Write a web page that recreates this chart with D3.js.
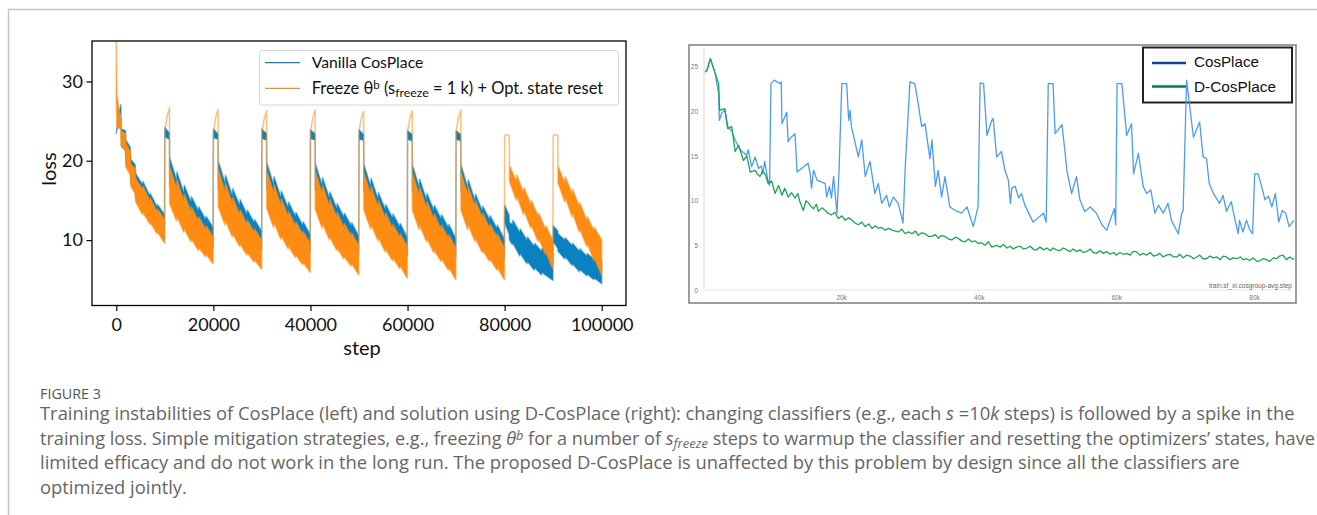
<!DOCTYPE html>
<html>
<head>
<meta charset="utf-8">
<script src="https://cdn.jsdelivr.net/npm/d3@7"></script>
<style>
  body { margin: 0; background: #fff; }
</style>
</head>
<body>
<script>
// ---- left panel: training loss, [step in k, low, high] of the noisy band ----
var vanilla = [
  [0.0, 23.4, 23.4], [0.3, 24.3, 25.3], [0.95, 26.2, 27.1], [1.05, 21.8, 24.0], [1.9, 21.3, 23.8],
  [2.0, 19.4, 22.6], [2.9, 18.5, 21.7], [3.0, 17.2, 20.2], [3.9, 16.3, 19.5], [4.0, 15.3, 18.4],
  [5.4, 13.7, 17.0], [5.5, 14.0, 17.4], [6.9, 12.5, 15.6], [7.0, 12.7, 15.9], [8.4, 11.3, 14.2],
  [8.5, 11.5, 14.5], [9.95, 10.0, 13.2],
  [10.0, 23.0, 24.2], [10.95, 22.7, 23.5], [11.0, 16.8, 20.4], [12.4, 14.6, 17.6], [12.5, 15.3, 18.6],
  [13.9, 13.2, 16.0], [14.0, 13.7, 16.9], [15.4, 12.0, 14.8], [15.5, 12.4, 15.5], [16.9, 11.0, 13.7],
  [17.0, 11.3, 14.2], [18.4, 10.0, 12.6], [18.5, 10.3, 13.0], [19.95, 9.0, 11.6],
  [20.0, 22.9, 24.0], [20.95, 22.7, 23.4], [21.0, 16.6, 20.0], [22.4, 14.3, 17.2], [22.5, 15.0, 18.2],
  [23.9, 12.9, 15.6], [24.0, 13.4, 16.5], [25.4, 11.7, 14.4], [25.5, 12.1, 15.1], [26.9, 10.7, 13.3],
  [27.0, 11.0, 13.8], [28.4, 9.7, 12.2], [28.5, 10.0, 12.6], [29.95, 8.7, 11.1],
  [30.0, 22.8, 24.0], [30.95, 22.6, 23.4], [31.0, 16.4, 19.8], [32.4, 14.1, 17.0], [32.5, 14.8, 18.0],
  [33.9, 12.7, 15.4], [34.0, 13.2, 16.2], [35.4, 11.5, 14.1], [35.5, 11.9, 14.8], [36.9, 10.5, 13.0],
  [37.0, 10.8, 13.5], [38.4, 9.5, 11.9], [38.5, 9.8, 12.3], [39.95, 8.4, 10.7],
  [40.0, 22.8, 23.9], [40.95, 22.6, 23.4], [41.0, 16.3, 19.7], [42.4, 14.0, 16.9], [42.5, 14.7, 17.9],
  [43.9, 12.6, 15.3], [44.0, 13.1, 16.1], [45.4, 11.4, 14.0], [45.5, 11.8, 14.6], [46.9, 10.4, 12.9],
  [47.0, 10.7, 13.4], [48.4, 9.4, 11.8], [48.5, 9.7, 12.2], [49.95, 8.2, 10.5],
  [50.0, 22.7, 23.9], [50.95, 22.6, 23.3], [51.0, 16.2, 19.6], [52.4, 13.9, 16.8], [52.5, 14.6, 17.8],
  [53.9, 12.5, 15.2], [54.0, 13.0, 16.0], [55.4, 11.3, 13.9], [55.5, 11.7, 14.5], [56.9, 10.3, 12.8],
  [57.0, 10.6, 13.3], [58.4, 9.3, 11.7], [58.5, 9.6, 12.1], [59.95, 8.0, 10.3],
  [60.0, 22.7, 23.8], [60.95, 22.5, 23.3], [61.0, 16.2, 19.5], [62.4, 13.8, 16.7], [62.5, 14.5, 17.7],
  [63.9, 12.4, 15.1], [64.0, 12.9, 15.9], [65.4, 11.2, 13.8], [65.5, 11.6, 14.4], [66.9, 10.2, 12.7],
  [67.0, 10.5, 13.2], [68.4, 9.2, 11.6], [68.5, 9.5, 12.0], [69.95, 7.8, 10.2],
  [70.0, 22.7, 23.8], [70.95, 22.5, 23.3], [71.0, 16.1, 19.5], [72.4, 13.8, 16.6], [72.5, 14.4, 17.6],
  [73.9, 12.3, 15.0], [74.0, 12.8, 15.8], [75.4, 11.1, 13.7], [75.5, 11.5, 14.3], [76.9, 10.1, 12.6],
  [77.0, 10.4, 13.1], [78.4, 9.1, 11.5], [78.5, 9.4, 11.9], [79.95, 7.8, 10.1],
  [80.0, 12.2, 14.4], [80.9, 10.8, 13.2], [81.0, 10.0, 12.2], [81.6, 9.4, 12.0], [81.7, 9.6, 12.5],
  [83.1, 8.0, 11.0], [83.2, 8.3, 11.4], [84.6, 7.0, 10.0], [84.7, 7.3, 10.4], [86.1, 6.2, 9.2],
  [86.2, 6.5, 9.6], [87.6, 5.6, 8.6], [87.7, 5.9, 9.0], [89.95, 4.9, 8.3],
  [90.0, 9.8, 11.8], [90.9, 9.0, 11.2], [91.0, 8.6, 10.8], [92.4, 7.6, 10.0], [92.5, 7.9, 10.3],
  [93.9, 6.8, 9.3], [94.0, 7.0, 9.6], [95.4, 6.0, 8.6], [95.5, 6.3, 8.9], [96.9, 5.5, 8.0],
  [97.0, 5.7, 8.3], [98.4, 5.0, 7.6], [98.5, 5.2, 7.8], [100.0, 4.5, 7.2]
];

var freeze = [
  [0.0, 27.5, 35.6], [0.15, 24.2, 28.2], [0.9, 24.0, 25.2], [1.0, 22.0, 23.8], [1.9, 21.2, 23.4],
  [2.0, 19.2, 22.2], [2.9, 18.2, 21.2], [3.0, 16.8, 19.6], [3.9, 15.8, 19.0], [4.0, 14.8, 17.8],
  [5.4, 13.2, 16.4], [5.5, 13.5, 16.8], [6.9, 12.0, 15.0], [7.0, 12.2, 15.3], [8.4, 10.8, 13.6],
  [8.5, 11.0, 13.9], [9.95, 9.6, 12.6],
  [10.0, 23.5, 23.5], [10.25, 24.7, 24.7], [10.5, 25.6, 25.6], [10.75, 26.2, 26.2], [10.97, 26.7, 26.7],
  [11.0, 14.6, 19.3], [12.4, 12.4, 16.6], [12.5, 13.0, 17.6], [13.9, 11.0, 15.0], [14.0, 11.4, 15.8],
  [15.4, 9.8, 13.6], [15.5, 10.1, 14.2], [16.9, 8.7, 12.4], [17.0, 9.0, 12.9], [18.4, 7.9, 11.4],
  [18.5, 8.2, 11.8], [19.95, 7.0, 10.4],
  [20.0, 23.4, 23.4], [20.25, 24.6, 24.6], [20.5, 25.5, 25.5], [20.75, 26.1, 26.1], [20.97, 26.5, 26.5],
  [21.0, 14.2, 19.0], [22.4, 11.9, 16.2], [22.5, 12.5, 17.2], [23.9, 10.4, 14.6], [24.0, 10.8, 15.4],
  [25.4, 9.2, 13.2], [25.5, 9.5, 13.8], [26.9, 8.1, 12.0], [27.0, 8.4, 12.5], [28.4, 7.2, 11.0],
  [28.5, 7.5, 11.4], [29.95, 6.3, 10.0],
  [30.0, 23.4, 23.4], [30.25, 24.5, 24.5], [30.5, 25.3, 25.3], [30.75, 25.9, 25.9], [30.97, 26.3, 26.3],
  [31.0, 14.0, 18.8], [32.4, 11.6, 16.0], [32.5, 12.2, 17.0], [33.9, 10.1, 14.4], [34.0, 10.5, 15.2],
  [35.4, 8.9, 13.0], [35.5, 9.2, 13.6], [36.9, 7.8, 11.8], [37.0, 8.1, 12.3], [38.4, 6.9, 10.7],
  [38.5, 7.2, 11.1], [39.95, 5.9, 9.6],
  [40.0, 23.5, 23.5], [40.25, 24.6, 24.6], [40.5, 25.4, 25.4], [40.75, 26.0, 26.0], [40.97, 26.4, 26.4],
  [41.0, 13.9, 18.7], [42.4, 11.5, 15.9], [42.5, 12.1, 16.9], [43.9, 10.0, 14.3], [44.0, 10.4, 15.1],
  [45.4, 8.7, 12.9], [45.5, 9.0, 13.5], [46.9, 7.6, 11.6], [47.0, 7.9, 12.1], [48.4, 6.7, 10.5],
  [48.5, 7.0, 10.9], [49.95, 5.6, 9.3],
  [50.0, 23.6, 23.6], [50.25, 24.6, 24.6], [50.5, 25.4, 25.4], [50.75, 25.9, 25.9], [50.97, 26.2, 26.2],
  [51.0, 13.8, 18.5], [52.4, 11.4, 15.8], [52.5, 12.0, 16.8], [53.9, 9.9, 14.2], [54.0, 10.3, 15.0],
  [55.4, 8.5, 12.8], [55.5, 8.8, 13.4], [56.9, 7.4, 11.5], [57.0, 7.7, 12.0], [58.4, 6.4, 10.4],
  [58.5, 6.7, 10.8], [59.95, 5.2, 9.2],
  [60.0, 23.6, 23.6], [60.25, 24.6, 24.6], [60.5, 25.4, 25.4], [60.75, 25.9, 25.9], [60.97, 26.3, 26.3],
  [61.0, 13.8, 18.5], [62.4, 11.3, 15.7], [62.5, 11.9, 16.7], [63.9, 9.8, 14.1], [64.0, 10.2, 14.9],
  [65.4, 8.4, 12.7], [65.5, 8.7, 13.3], [66.9, 7.3, 11.4], [67.0, 7.6, 11.9], [68.4, 6.2, 10.3],
  [68.5, 6.5, 10.7], [69.95, 5.0, 9.0],
  [70.0, 23.6, 23.6], [70.25, 24.7, 24.7], [70.5, 25.5, 25.5], [70.75, 26.0, 26.0], [70.97, 26.4, 26.4],
  [71.0, 13.8, 18.6], [72.4, 11.3, 15.8], [72.5, 11.9, 16.8], [73.9, 9.8, 14.2], [74.0, 10.2, 15.0],
  [75.4, 8.4, 12.8], [75.5, 8.7, 13.4], [76.9, 7.3, 11.5], [77.0, 7.6, 12.0], [78.4, 6.2, 10.4],
  [78.5, 6.5, 10.8], [79.95, 5.0, 9.0],
  [80.0, 23.0, 23.0], [80.15, 23.3, 23.3], [80.95, 23.2, 23.2], [81.0, 17.4, 19.4], [82.4, 15.0, 17.4],
  [82.5, 15.6, 18.2], [83.9, 13.2, 16.0], [84.0, 13.7, 16.6], [85.4, 11.5, 14.5], [85.5, 11.9, 15.0],
  [86.9, 9.8, 13.0], [87.0, 10.2, 13.4], [88.4, 8.2, 11.4], [88.5, 8.5, 11.8], [89.95, 6.3, 9.9],
  [90.0, 23.0, 23.0], [90.15, 23.3, 23.3], [90.95, 23.2, 23.2], [91.0, 17.2, 19.3], [92.4, 14.8, 17.2],
  [92.5, 15.4, 18.0], [93.9, 12.9, 15.8], [94.0, 13.4, 16.4], [95.4, 11.0, 14.2], [95.5, 11.4, 14.7],
  [96.9, 9.2, 12.5], [97.0, 9.6, 13.0], [98.4, 7.4, 11.2], [98.5, 7.7, 11.6], [100.0, 5.5, 10.0]
];

var leftXTicks = [0, 20000, 40000, 60000, 80000, 100000];
var leftYTicks = [10, 20, 30];

// ---- right panel: [step in k, loss] ----
var cosPlace = [
  [0.25, 24.4], [0.5, 24.6], [1.0, 25.9], [1.7, 24.2], [2.2, 22.0], [2.3, 19.0], [2.7, 19.9], [3.1, 20.1],
  [3.6, 18.1], [4.1, 17.9], [4.3, 17.4], [4.6, 16.8], [5.1, 16.0], [5.6, 15.5], [6.3, 15.1], [6.5, 15.7],
  [7.0, 13.8], [7.5, 14.9], [8.0, 13.6], [8.4, 13.9], [8.6, 13.0], [8.9, 14.4], [9.3, 12.5], [9.6, 11.7],
  [9.8, 23.1], [10.3, 23.5], [11.1, 23.1], [11.3, 23.3], [11.4, 18.6], [12.1, 19.9], [12.3, 16.6],
  [12.6, 17.0], [13.3, 17.5], [13.6, 13.2], [15.2, 14.2], [15.5, 13.0], [15.7, 11.4], [16.0, 13.4],
  [16.5, 12.3], [17.7, 11.9], [17.9, 10.4], [18.3, 11.6], [18.6, 10.3], [18.9, 12.7], [19.4, 8.6],
  [19.7, 13.4], [20.1, 23.1], [20.8, 23.1], [21.1, 19.0], [21.3, 20.1], [21.5, 18.3], [22.5, 14.9],
  [23.0, 16.8], [23.5, 12.7], [24.2, 14.4], [24.9, 10.8], [25.4, 11.9], [25.9, 9.7], [26.6, 10.6],
  [27.0, 9.3], [27.6, 10.4], [28.3, 9.7], [29.0, 7.5], [29.3, 13.4], [30.0, 23.3], [30.7, 23.1],
  [31.2, 20.9], [31.7, 18.3], [32.2, 18.6], [32.9, 14.7], [33.2, 16.8], [33.7, 11.6], [34.1, 13.4],
  [34.6, 10.4], [35.1, 12.7], [35.8, 9.3], [36.6, 8.9], [37.5, 8.6], [38.3, 9.3], [39.2, 7.1],
  [39.9, 9.3], [40.2, 23.2], [40.7, 23.1], [41.2, 17.3], [41.9, 19.0], [42.1, 19.2], [42.6, 14.9],
  [43.3, 15.5], [43.8, 13.4], [44.3, 12.3], [44.6, 9.7], [44.8, 11.4], [45.3, 11.6], [45.8, 10.3],
  [46.2, 10.8], [46.7, 9.5], [47.9, 7.6], [49.4, 8.6], [49.8, 7.6], [50.1, 23.1], [50.8, 23.1],
  [51.1, 17.5], [52.1, 18.5], [52.5, 15.7], [52.8, 13.4], [53.5, 10.8], [54.2, 12.7], [54.7, 10.1],
  [55.4, 8.8], [56.2, 9.3], [57.1, 8.6], [57.9, 7.3], [58.6, 6.7], [59.1, 7.8], [59.7, 9.1], [59.9, 7.3],
  [60.1, 23.1], [60.8, 23.1], [61.5, 17.3], [62.2, 18.6], [62.5, 13.0], [63.2, 15.3], [63.9, 11.6],
  [64.4, 10.8], [65.0, 11.2], [65.6, 8.6], [66.1, 9.5], [66.8, 8.6], [67.5, 9.7], [68.0, 7.8],
  [69.0, 6.3], [69.5, 8.6], [69.7, 8.8], [70.2, 23.5], [71.2, 17.1], [72.1, 18.8], [72.6, 14.9],
  [73.1, 14.7], [73.5, 11.9], [74.1, 10.8], [75.0, 9.7], [75.5, 10.6], [76.0, 8.8], [76.7, 9.9],
  [77.2, 8.0], [77.7, 6.3], [77.9, 7.8], [78.4, 6.5], [78.9, 7.8], [79.4, 6.7], [79.8, 6.3],
  [80.1, 13.0], [80.6, 13.0], [81.1, 11.6], [81.6, 10.1], [82.1, 10.5], [82.6, 9.3], [83.1, 10.8],
  [83.6, 7.6], [84.1, 8.9], [84.6, 8.6], [85.1, 7.1], [85.8, 7.8]
];

var dCosPlace = [
  [0.25, 24.4], [0.5, 24.6], [1.0, 25.9], [2.2, 23.1], [2.35, 20.1], [3.1, 20.3], [3.5, 18.1], [4.1, 18.3],
  [4.6, 15.5], [5.1, 16.2], [5.8, 14.5], [6.3, 15.0], [6.8, 13.2], [7.5, 13.4], [7.8, 13.0], [8.2, 12.7],
  [8.6, 13.3], [9.0, 12.9], [9.4, 11.9], [9.9, 12.2], [10.4, 10.8], [10.9, 11.7], [11.4, 10.6], [11.8, 11.4],
  [12.3, 10.4], [12.8, 10.9], [13.3, 10.3], [13.7, 10.8], [14.0, 9.9], [14.5, 8.9], [14.9, 10.0], [15.3, 9.7],
  [15.7, 9.3], [16.0, 9.1], [16.4, 9.6], [16.7, 8.8], [17.2, 9.2], [17.7, 8.9], [18.1, 8.6], [18.6, 8.4],
  [19.1, 8.7], [19.6, 8.0], [20.1, 8.3], [20.6, 7.8], [21.1, 8.1], [21.6, 7.8], [22.0, 7.5], [22.5, 7.3],
  [23.0, 7.6], [23.5, 7.1], [24.0, 7.4], [24.5, 6.9], [25.0, 7.2], [25.4, 6.9], [25.9, 7.0], [26.4, 6.7],
  [26.9, 6.9], [27.4, 6.7], [27.9, 6.6], [28.3, 6.5], [28.8, 6.8], [29.3, 6.3], [29.8, 6.5], [30.3, 6.3],
  [30.8, 6.6], [31.2, 6.1], [31.7, 6.4], [32.2, 6.3], [32.7, 6.0], [33.2, 6.0], [33.7, 6.2], [34.1, 5.8],
  [34.6, 6.1], [35.1, 6.0], [35.6, 5.7], [36.1, 5.6], [36.6, 5.9], [37.0, 5.8], [37.5, 5.5], [38.0, 5.4],
  [38.5, 5.7], [39.0, 5.4], [39.5, 5.5], [39.9, 5.2], [40.4, 5.3], [40.9, 5.0], [41.4, 5.4], [41.9, 4.8],
  [42.6, 5.0], [43.1, 4.8], [43.6, 5.1], [44.1, 4.7], [44.6, 4.9], [45.0, 4.6], [45.5, 4.8], [46.0, 4.9],
  [46.5, 4.6], [47.0, 4.7], [47.5, 4.9], [48.0, 4.5], [48.4, 4.5], [48.9, 4.8], [49.4, 4.5], [49.9, 4.7],
  [50.4, 4.4], [50.8, 4.7], [51.3, 4.5], [51.8, 4.4], [52.3, 4.7], [52.8, 4.5], [53.3, 4.3], [53.7, 4.6],
  [54.2, 4.3], [54.7, 4.5], [55.2, 4.2], [55.7, 4.3], [56.2, 4.6], [56.6, 4.2], [57.1, 4.1], [57.6, 4.4],
  [58.1, 4.1], [58.6, 4.3], [59.1, 4.0], [59.6, 4.2], [60.0, 3.9], [60.5, 4.2], [61.0, 4.0], [61.5, 4.1],
  [62.0, 3.9], [62.4, 4.3], [62.9, 4.3], [63.4, 3.9], [63.9, 4.1], [64.4, 3.9], [64.9, 4.2], [65.4, 3.8],
  [65.9, 3.9], [66.3, 4.1], [66.8, 3.7], [67.3, 3.9], [67.8, 4.0], [68.3, 3.7], [68.8, 3.7], [69.2, 4.0],
  [69.7, 3.6], [70.2, 3.9], [70.7, 3.8], [71.2, 3.5], [71.7, 3.7], [72.1, 3.9], [72.6, 3.5], [73.1, 3.5],
  [73.6, 3.8], [74.1, 3.6], [74.6, 3.7], [75.1, 3.4], [75.5, 3.8], [76.0, 3.7], [76.5, 3.4], [77.0, 3.6],
  [77.5, 3.5], [78.0, 3.7], [78.4, 3.4], [78.9, 3.5], [79.4, 3.3], [79.9, 3.6], [80.4, 3.2], [80.9, 3.3],
  [81.3, 3.5], [81.8, 3.4], [82.3, 3.2], [82.8, 3.6], [83.3, 3.5], [83.7, 3.8], [84.2, 3.9], [84.7, 3.4],
  [85.2, 3.7], [85.8, 3.4]
];

var rightXTicks = [20, 40, 60, 80];
var rightYTicks = [0, 5, 10, 15, 20, 25];

var svg = d3.select('body').append('svg')
  .attr('width', 1317)
  .attr('height', 515);

// page frame
svg.append('line').attr('x1', 8).attr('x2', 1317).attr('y1', 9.5).attr('y2', 9.5)
  .attr('stroke', '#c4c4c4').attr('stroke-width', 1.5);
svg.append('line').attr('x1', 8.5).attr('x2', 8.5).attr('y1', 9.5).attr('y2', 515)
  .attr('stroke', '#c4c4c4').attr('stroke-width', 1.5);

// scale a text to a target width
function fitWidth(sel, w) {
  var len = sel.node().getComputedTextLength();
  var fs = parseFloat(sel.attr('font-size'));
  sel.attr('font-size', fs * w / len);
  return fs * w / len;
}

// ================= LEFT =================
var leftFont = 'Lato, "Open Sans", sans-serif';
var xL = d3.scaleLinear().domain([-5000, 105000]).range([92, 626]);
var yL = d3.scaleLinear().domain([1.75, 35.1]).range([305.5, 41]);

var gL = svg.append('g');
svg.append('defs').append('clipPath').attr('id', 'clipL')
  .append('rect').attr('x', 92).attr('y', 41).attr('width', 534).attr('height', 264.5);

var band = d3.area()
  .x(function(d) { return xL(d[0] * 1000); })
  .y0(function(d) { return yL(d[1]); })
  .y1(function(d) { return yL(d[2]); });

var plotL = gL.append('g').attr('clip-path', 'url(#clipL)');
plotL.append('path').datum(vanilla)
  .attr('d', band)
  .attr('fill', '#0a82c2')
  .attr('stroke', '#0a82c2').attr('stroke-opacity', 0.5)
  .attr('stroke-width', 1.5).attr('stroke-linejoin', 'round');
plotL.append('path').datum(freeze)
  .attr('d', band)
  .attr('fill', '#ff8c12')
  .attr('stroke', '#ff8c12').attr('stroke-opacity', 0.55)
  .attr('stroke-width', 1.5).attr('stroke-linejoin', 'round');

// axes
var xAxisL = d3.axisBottom(xL).tickValues(leftXTicks).tickSize(5.5).tickPadding(7)
  .tickFormat(function(d) { return d; });
var yAxisL = d3.axisLeft(yL).tickValues(leftYTicks).tickSize(5.5).tickPadding(3.5);

gL.append('g').attr('transform', 'translate(0,305.5)').call(xAxisL)
  .call(function(g) { g.select('.domain').remove(); });
gL.append('g').attr('transform', 'translate(92,0)').call(yAxisL)
  .call(function(g) { g.select('.domain').remove(); });
gL.selectAll('.tick line').attr('stroke', '#000').attr('stroke-width', 1.2);
gL.selectAll('.tick text').attr('font-family', leftFont).attr('font-size', 18).attr('fill', '#111');

gL.append('rect').attr('x', 92).attr('y', 41).attr('width', 534).attr('height', 264.5)
  .attr('fill', 'none').attr('stroke', '#000').attr('stroke-width', 1.3);

gL.append('text').attr('x', 362).attr('y', 355).attr('text-anchor', 'middle')
  .attr('font-family', leftFont).attr('font-size', 20).attr('fill', '#111').text('step');
gL.append('text').attr('transform', 'translate(56,169) rotate(-90)').attr('text-anchor', 'middle')
  .attr('font-family', leftFont).attr('font-size', 20).attr('fill', '#111').text('loss');

// legend
var lg = gL.append('g');
lg.append('rect').attr('x', 259.5).attr('y', 50.5).attr('width', 359).attr('height', 54.5)
  .attr('rx', 3).attr('fill', '#fff').attr('fill-opacity', 0.85)
  .attr('stroke', '#d6d6d6').attr('stroke-width', 1);
lg.append('line').attr('x1', 265).attr('x2', 300).attr('y1', 62.7).attr('y2', 62.7)
  .attr('stroke', '#0a82c2').attr('stroke-width', 1.3);
lg.append('line').attr('x1', 265).attr('x2', 300).attr('y1', 88.3).attr('y2', 88.3)
  .attr('stroke', '#ff8c12').attr('stroke-width', 1.3);
var l1 = lg.append('text').attr('x', 311.7).attr('y', 68.3)
  .attr('font-family', leftFont).attr('font-size', 15).attr('fill', '#111').text('Vanilla CosPlace');
fitWidth(l1, 111.7);
var l2 = lg.append('text').attr('x', 311.7).attr('y', 94)
  .attr('font-family', leftFont).attr('font-size', 15).attr('fill', '#111');
l2.append('tspan').text('Freeze θ');
l2.append('tspan').attr('font-size', '70%').attr('baseline-shift', '38%').text('b');
l2.append('tspan').text(' (s');
l2.append('tspan').attr('font-size', '75%').attr('baseline-shift', '-22%').text('freeze');
l2.append('tspan').text('  = 1 k) + Opt. state reset');
fitWidth(l2, 291.7);

// ================= RIGHT =================
var rightFont = '"Liberation Sans", Arial, sans-serif';
var xR = d3.scaleLinear().domain([0, 80]).range([703.5, 1254]);
var yR = d3.scaleLinear().domain([0, 25]).range([290, 66.7]);
var gR = svg.append('g');

gR.append('rect').attr('x', 689).attr('y', 45).attr('width', 607).attr('height', 258)
  .attr('fill', '#fff').attr('stroke', '#7d7d7d').attr('stroke-width', 1.5);

// light axis lines
gR.append('line').attr('x1', 704).attr('x2', 704).attr('y1', 48).attr('y2', 290)
  .attr('stroke', '#e6e6e6').attr('stroke-width', 1.5);
gR.append('line').attr('x1', 704).attr('x2', 1292).attr('y1', 290).attr('y2', 290)
  .attr('stroke', '#e6e6e6').attr('stroke-width', 1.2);

var yAxisR = d3.axisLeft(yR).tickValues(rightYTicks).tickSize(0).tickPadding(6);
var xAxisR = d3.axisBottom(xR).tickValues(rightXTicks).tickSize(0).tickPadding(5)
  .tickFormat(function(d) { return d + 'k'; });
gR.append('g').attr('transform', 'translate(704,0)').call(yAxisR)
  .call(function(g) { g.select('.domain').remove(); });
gR.append('g').attr('transform', 'translate(0,290)').call(xAxisR)
  .call(function(g) { g.select('.domain').remove(); });
gR.selectAll('.tick text').attr('font-family', rightFont).attr('font-size', 6.5).attr('fill', '#777');

gR.append('text').attr('x', 1292).attr('y', 288).attr('text-anchor', 'end')
  .attr('font-family', rightFont).attr('font-size', 6.5).attr('fill', '#666')
  .text('train.sf_xl.cosgroup-avg.step');

// legend (no fill, the curves pass over it)
gR.append('rect').attr('x', 1143).attr('y', 47.5).attr('width', 149).attr('height', 55)
  .attr('fill', 'none').attr('stroke', '#222').attr('stroke-width', 2);
gR.append('line').attr('x1', 1152).attr('x2', 1186).attr('y1', 63).attr('y2', 63)
  .attr('stroke', '#163f96').attr('stroke-width', 2.5);
gR.append('line').attr('x1', 1152).attr('x2', 1186).attr('y1', 86.5).attr('y2', 86.5)
  .attr('stroke', '#0c7a4b').attr('stroke-width', 2.5);
var r1 = gR.append('text').attr('x', 1194).attr('y', 67).attr('font-family', rightFont)
  .attr('font-size', 15.5).attr('fill', '#111').text('CosPlace');
fitWidth(r1, 65);
var r2 = gR.append('text').attr('x', 1194).attr('y', 91.5).attr('font-family', rightFont)
  .attr('font-size', 15.5).attr('fill', '#111').text('D-CosPlace');
fitWidth(r2, 82);

var lineR = d3.line()
  .x(function(d) { return xR(d[0]); })
  .y(function(d) { return yR(d[1]); });

gR.append('path').datum(cosPlace).attr('d', lineR)
  .attr('fill', 'none').attr('stroke', '#4b9cf0').attr('stroke-width', 1.3)
  .attr('stroke-linejoin', 'round');
gR.append('path').datum(dCosPlace).attr('d', lineR)
  .attr('fill', 'none').attr('stroke', '#1ea453').attr('stroke-width', 1.3)
  .attr('stroke-linejoin', 'round');

// ================= CAPTION =================
var capFont = '"Open Sans", "Noto Sans", sans-serif';
var cap = svg.append('g').attr('font-family', capFont).attr('fill', '#666');

var fig = cap.append('text').attr('x', 40).attr('y', 398.5).attr('font-size', 13.5)
  .attr('fill', '#555').text('FIGURE 3');
fitWidth(fig, 61);

var c1 = cap.append('text').attr('x', 40).attr('y', 420).attr('font-size', 17);
c1.append('tspan').text('Training instabilities of CosPlace (left) and solution using D-CosPlace (right): changing classifiers (e.g., each ');
c1.append('tspan').attr('font-style', 'italic').text('s');
c1.append('tspan').text(' =10');
c1.append('tspan').attr('font-style', 'italic').text('k');
c1.append('tspan').text(' steps) is followed by a spike in the');
var capSize = fitWidth(c1, 1256);

var c2 = cap.append('text').attr('x', 40).attr('y', 444.5).attr('font-size', capSize);
c2.append('tspan').text('training loss. Simple mitigation strategies, e.g., freezing ');
c2.append('tspan').attr('font-style', 'italic').text('θ');
c2.append('tspan').attr('font-style', 'italic').attr('font-size', '70%').attr('baseline-shift', '40%').text('b');
c2.append('tspan').text(' for a number of ');
c2.append('tspan').attr('font-style', 'italic').text('s');
c2.append('tspan').attr('font-style', 'italic').attr('font-size', '72%').attr('baseline-shift', '-25%').text('freeze');
c2.append('tspan').text(' steps to warmup the classifier and resetting the optimizers’ states, have');
fitWidth(c2, 1274);

cap.append('text').attr('x', 40).attr('y', 469).attr('font-size', capSize)
  .text('limited efficacy and do not work in the long run. The proposed D-CosPlace is unaffected by this problem by design since all the classifiers are');
cap.append('text').attr('x', 40).attr('y', 493.5).attr('font-size', capSize)
  .text('optimized jointly.');
</script>
</body>
</html>
